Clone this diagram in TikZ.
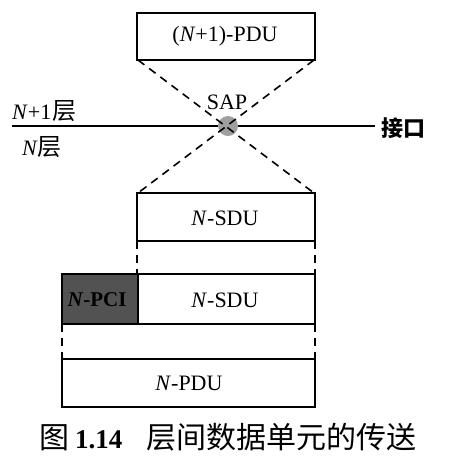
\documentclass[tikz,border=0pt]{standalone}
\usepackage{fontspec}
\setmainfont{Liberation Serif}
\newfontfamily\cjk{Noto Sans CJK SC}
\begin{document}
\begin{tikzpicture}[x=1pt,y=-1pt,
  dsh/.style={line width=1.6pt,dash pattern=on 8pt off 6pt},
  lbl/.style={font=\fontsize{22}{24}\selectfont,inner sep=0pt}]
\useasboundingbox (0,0) rectangle (450,467);
% top box
\draw[line width=1.6pt] (137,13) rectangle (315,60);
\node[lbl] (t) at (225,36) {(\textit{N}+1)-PDU};
\coordinate (tl) at (138,60);
\coordinate (tr) at (314,60);
% SAP
\coordinate (sap) at (228,126);
\draw[line width=1.3pt] (12,126) -- (375,126);
\node[circle,fill=gray!75,minimum size=20pt,inner sep=0pt] (c) at (sap) {};
\node[lbl] (saplbl) at (227,102) {SAP};
\node[lbl,font=\cjk\fontsize{22}{24}\selectfont\bfseries,anchor=west] (jk) at (381,128) {接口};
\node[lbl,anchor=west] (n1) at (12,111) {\textit{N}+1\hspace{1pt}{\cjk\fontsize{24}{26}\selectfont 层}};
\node[lbl,anchor=west] (n0) at (22,147) {\textit{N}{\cjk\fontsize{24}{26}\selectfont 层}};
% SDU box
\draw[line width=1.6pt] (137,193) rectangle (315,241);
\node[lbl] (sdu1) at (225,218) {\textit{N}-SDU};
\coordinate (bl) at (138,193);
\coordinate (br) at (314,193);
\draw[dsh] (tl) -- (br);
\draw[dsh] (tr) -- (bl);
% second row
\fill[black!68] (62,274) rectangle (138,324);
\draw[line width=1.6pt] (62,274) rectangle (315,324);
\draw[line width=1.6pt] (138,274) -- (138,324);
\node[lbl,font=\bfseries\fontsize{21}{23}\selectfont] (pci) at (97,300) {\textit{N}-PCI};
\node[lbl] (sdu2) at (225,300) {\textit{N}-SDU};
\draw[dsh] (137,241) -- (137,274);
\draw[dsh] (315,241) -- (315,274);
% PDU
\draw[line width=1.6pt] (62,359) rectangle (315,407);
\node[lbl] (pdu) at (189,383) {\textit{N}-PDU};
\draw[dsh] (62,324) -- (62,359);
\draw[dsh] (315,324) -- (315,359);
% caption
\node[lbl,anchor=west] (cap) at (39,437) {{\cjk\fontsize{30}{32}\selectfont 图}\hspace{6pt}\textbf{\fontsize{27}{29}\selectfont 1.14}\hspace{24pt}{\cjk\fontsize{30}{32}\selectfont 层间数据单元的传送}};
\end{tikzpicture}
\end{document}
